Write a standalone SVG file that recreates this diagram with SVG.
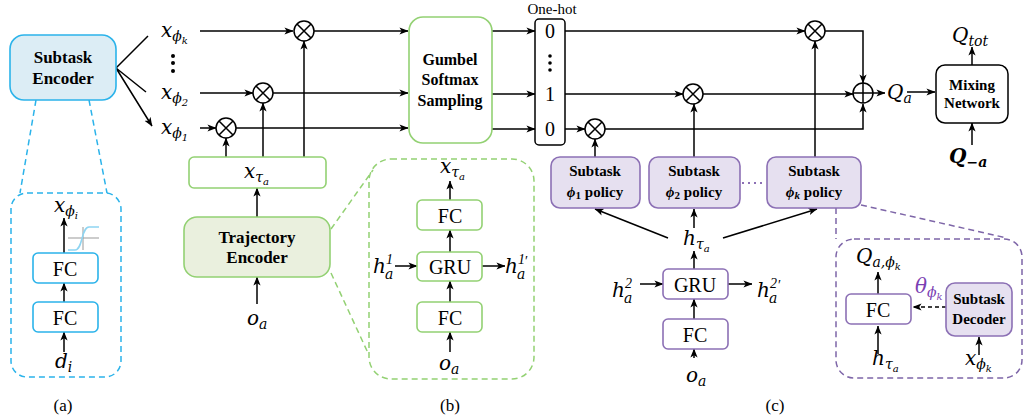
<svg xmlns="http://www.w3.org/2000/svg" width="1025" height="419" viewBox="0 0 1025 419">
<style>
text{font-family:"Liberation Serif","Times New Roman",serif;fill:#000}
.b{font-weight:bold;text-anchor:middle}
.t{font-size:20px;text-anchor:middle}
.m{font-family:"DejaVu Serif",serif;font-size:20px;font-style:italic}
.s{font-size:14px}
.ss{font-size:10px}
.ln{fill:none;stroke:#000;stroke-width:1.5}
.ar{fill:none;stroke:#000;stroke-width:1.5;marker-end:url(#ah)}
.op{fill:#fff;stroke:#000;stroke-width:1.5}
.blue{fill:#fff;stroke:#2bb3ea;stroke-width:1.6}
.blueF{fill:#dcedf5;stroke:#2bb3ea;stroke-width:1.6}
.green{fill:#fff;stroke:#93d173;stroke-width:1.6}
.greenF{fill:#eaf0de;stroke:#93d173;stroke-width:1.6}
.purp{fill:#fff;stroke:#8c70b5;stroke-width:1.6}
.purpF{fill:#e6e0f0;stroke:#8c70b5;stroke-width:1.6}
.dBlue{fill:none;stroke:#2bb3ea;stroke-width:1.5;stroke-dasharray:6 4}
.dGreen{fill:none;stroke:#93d173;stroke-width:1.5;stroke-dasharray:6 4}
.dPurp{fill:none;stroke:#7e66a8;stroke-width:1.5;stroke-dasharray:6 4}
</style>
<defs>
<marker id="ah" viewBox="0 0 10 10" refX="9.5" refY="5" markerWidth="9" markerHeight="9" markerUnits="userSpaceOnUse" orient="auto">
<path d="M0,1 L10,5 L0,9 L2.5,5 z" fill="#000"/>
</marker>
<g id="otimes"><circle r="10" class="op"/><path d="M-7,-7 L7,7 M-7,7 L7,-7" class="ln"/></g>
<g id="oplus"><circle r="10" class="op"/><path d="M-10,0 H10 M0,-10 V10" class="ln"/></g>
</defs>

<!-- dashed zoom outlines -->
<g id="zooms">
<path d="M36,100 L20,193 M89,100 L107,193" class="dBlue"/>
<rect x="11" y="193" width="110" height="184" rx="16" class="dBlue"/>
<path d="M331,229 L373,170 M331,273 L368,353" class="dGreen"/>
<rect x="369" y="159" width="165" height="220" rx="22" class="dGreen"/>
<path d="M836,208 V239 M861,205 L1007,238" class="dPurp"/>
<rect x="836" y="239" width="186" height="139" rx="18" class="dPurp"/>
<path d="M742,183 H766" fill="none" stroke="#8c70b5" stroke-width="2.2" stroke-dasharray="2 4"/>
</g>

<!-- connectors -->
<g id="connectors">
<path d="M116,68 L148,36 M116,68 L146,92 M116,68 L152,126" class="ar"/>
<path d="M200,31 H293" class="ar"/>
<path d="M314,31 H408" class="ar"/>
<path d="M200,93 H253" class="ar"/>
<path d="M273,93 H408" class="ar"/>
<path d="M200,128 H216" class="ar"/>
<path d="M236,128 H408" class="ar"/>
<path d="M226,157 V138" class="ar"/>
<path d="M263,157 V103" class="ar"/>
<path d="M304,157 V41" class="ar"/>
<path d="M257,217 V188" class="ar"/>
<path d="M257,304 V277" class="ar"/>
<path d="M64,253 V218" class="ar"/>
<path d="M64,302 V283" class="ar"/>
<path d="M64,352 V332" class="ar"/>
<path d="M450,200 V181" class="ar"/>
<path d="M450,252 V230" class="ar"/>
<path d="M450,302 V281" class="ar"/>
<path d="M450,352 V332" class="ar"/>
<path d="M395,266 H417" class="ar"/>
<path d="M482,266 H505" class="ar"/>
<path d="M492,31 H535" class="ar"/>
<path d="M492,94 H535" class="ar"/>
<path d="M492,129 H535" class="ar"/>
<path d="M565,31 H805" class="ar"/>
<path d="M825,31 H863 V83" class="ar"/>
<path d="M565,94 H683" class="ar"/>
<path d="M703,94 H853" class="ar"/>
<path d="M565,129 H585" class="ar"/>
<path d="M605,129 H863 V104" class="ar"/>
<path d="M873,93 H885" class="ar"/>
<path d="M907,92 H935" class="ar"/>
<path d="M972,65 V47" class="ar"/>
<path d="M972,145 V123" class="ar"/>
<path d="M595,157 V139" class="ar"/>
<path d="M694,157 V104" class="ar"/>
<path d="M815,157 V41" class="ar"/>
<path d="M668,238 L595,209" class="ar"/>
<path d="M694,228 V209" class="ar"/>
<path d="M723,238 L817,209" class="ar"/>
<path d="M694,269 V251" class="ar"/>
<path d="M694,319 V299" class="ar"/>
<path d="M694,358 V349" class="ar"/>
<path d="M640,284 H663" class="ar"/>
<path d="M728,284 H752" class="ar"/>
<path d="M878,294 V272" class="ar"/>
<path d="M878,354 V326" class="ar"/>
<path d="M979,355 V337" class="ar"/>
<path d="M946,307 H913" class="ar" stroke-dasharray="4 3"/>
</g>

<!-- operators -->
<g id="ops">
<use href="#otimes" x="304" y="31"/>
<use href="#otimes" x="263" y="93"/>
<use href="#otimes" x="226" y="128"/>
<use href="#otimes" x="815" y="31"/>
<use href="#otimes" x="693" y="94"/>
<use href="#otimes" x="595" y="129"/>
<use href="#oplus" x="863" y="93"/>
</g>

<!-- (a) -->
<g id="subtask-encoder">
<rect x="10" y="35" width="106" height="65" rx="14" class="blueF"/>
<text x="63" y="63" class="b" font-size="17">Subtask</text>
<text x="63" y="84" class="b" font-size="17">Encoder</text>
</g>
<g id="a-fc1"><rect x="33" y="253" width="65" height="30" rx="5" class="blue"/><text x="65" y="276" class="t">FC</text></g>
<g id="a-fc2"><rect x="33" y="302" width="65" height="30" rx="5" class="blue"/><text x="65" y="325" class="t">FC</text></g>
<g id="sigmoid">
<path d="M68,238 H99 M83,227 V250" stroke="#999" stroke-width="1" fill="none"/>
<path d="M68,250 H75 C83,250 81,227 89,227 H99" stroke="#8fd5f2" stroke-width="1.5" fill="none"/>
</g>
<text x="54" y="212" class="m">x<tspan class="s" dy="4">ϕ</tspan><tspan class="ss" dy="3">i</tspan></text>
<text x="55" y="368" class="m">d<tspan class="s" dy="4">i</tspan></text>
<text x="63" y="411" font-size="17" text-anchor="middle">(a)</text>

<!-- x labels -->
<text x="161" y="37" class="m">x<tspan class="s" dy="4">ϕ</tspan><tspan class="ss" dy="3">k</tspan></text>
<g id="vdots"><circle cx="173" cy="56" r="2"/><circle cx="173" cy="63" r="2"/><circle cx="173" cy="71" r="2"/></g>
<text x="161" y="99" class="m">x<tspan class="s" dy="4">ϕ</tspan><tspan class="ss" dy="3">2</tspan></text>
<text x="161" y="134" class="m">x<tspan class="s" dy="4">ϕ</tspan><tspan class="ss" dy="3">1</tspan></text>

<!-- (b) -->
<g id="x-tau"><rect x="189" y="157" width="137" height="31" rx="5" class="green"/>
<text x="244" y="178" class="m">x<tspan class="s" dy="4">τ</tspan><tspan class="ss" dy="3">a</tspan></text></g>
<g id="trajectory-encoder"><rect x="184" y="217" width="146" height="60" rx="13" class="greenF"/>
<text x="257" y="243" class="b" font-size="17">Trajectory</text>
<text x="257" y="263" class="b" font-size="17">Encoder</text></g>
<text x="247" y="325" class="m">o<tspan class="s" dy="4">a</tspan></text>
<g id="b-fc1"><rect x="417" y="200" width="65" height="30" rx="5" class="green"/><text x="450" y="223" class="t">FC</text></g>
<g id="b-gru"><rect x="417" y="252" width="65" height="29" rx="5" class="green"/><text x="450" y="274" class="t">GRU</text></g>
<g id="b-fc2"><rect x="417" y="302" width="65" height="30" rx="5" class="green"/><text x="450" y="325" class="t">FC</text></g>
<text x="440" y="173" class="m">x<tspan class="s" dy="4">τ</tspan><tspan class="ss" dy="3">a</tspan></text>
<text x="439" y="370" class="m">o<tspan class="s" dy="4">a</tspan></text>
<text x="373" y="273" class="m">h</text><text x="386" y="264" class="s" font-style="italic">1</text><text x="385" y="279" class="s m" style="font-size:14px">a</text>
<text x="505" y="273" class="m">h</text><text x="518" y="264" class="s" font-style="italic">1</text><text x="517" y="279" class="m" style="font-size:14px">a</text><text x="525" y="266" class="s">′</text>
<text x="450" y="411" font-size="17" text-anchor="middle">(b)</text>

<!-- Gumbel -->
<g id="gumbel"><rect x="409" y="17" width="83" height="126" rx="14" class="green"/>
<text x="450" y="65" class="b" font-size="16">Gumbel</text>
<text x="450" y="85" class="b" font-size="16">Softmax</text>
<text x="450" y="106" class="b" font-size="16">Sampling</text></g>
<g id="one-hot"><rect x="535" y="19" width="30" height="126" rx="4" fill="#fff" stroke="#000" stroke-width="1.5"/>
<text x="550" y="38" class="t">0</text>
<circle cx="550" cy="56" r="1.8"/><circle cx="550" cy="63" r="1.8"/><circle cx="550" cy="70" r="1.8"/>
<text x="550" y="101" class="t">1</text>
<text x="550" y="136" class="t">0</text>
<text x="552" y="14" font-size="15" text-anchor="middle">One-hot</text></g>

<!-- (c) -->
<g id="policy1"><rect x="551" y="157" width="89" height="51" rx="9" class="purpF"/>
<text x="595" y="176" class="b" font-size="15">Subtask</text>
<text x="595" y="197" class="b" font-size="15"><tspan font-style="italic">ϕ</tspan><tspan font-size="11" dy="2">1</tspan><tspan dy="-2"> policy</tspan></text></g>
<g id="policy2"><rect x="649" y="157" width="91" height="51" rx="9" class="purpF"/>
<text x="694" y="176" class="b" font-size="15">Subtask</text>
<text x="694" y="197" class="b" font-size="15"><tspan font-style="italic">ϕ</tspan><tspan font-size="11" dy="2">2</tspan><tspan dy="-2"> policy</tspan></text></g>
<g id="policyk"><rect x="767" y="157" width="94" height="51" rx="9" class="purpF"/>
<text x="814" y="176" class="b" font-size="15">Subtask</text>
<text x="814" y="197" class="b" font-size="15"><tspan font-style="italic">ϕ</tspan><tspan font-size="11" font-style="italic" dy="2">k</tspan><tspan dy="-2"> policy</tspan></text></g>
<text x="683" y="245" class="m">h<tspan class="s" dy="4">τ</tspan><tspan class="ss" dy="3">a</tspan></text>
<g id="c-gru"><rect x="663" y="269" width="65" height="30" rx="5" class="purp"/><text x="695" y="292" class="t">GRU</text></g>
<g id="c-fc"><rect x="663" y="319" width="65" height="30" rx="5" class="purp"/><text x="695" y="342" class="t">FC</text></g>
<text x="686" y="382" class="m">o<tspan class="s" dy="4">a</tspan></text>
<text x="612" y="297" class="m">h</text><text x="625" y="288" class="s" font-style="italic">2</text><text x="624" y="303" class="m" style="font-size:14px">a</text>
<text x="757" y="297" class="m">h</text><text x="770" y="288" class="s" font-style="italic">2</text><text x="769" y="303" class="m" style="font-size:14px">a</text><text x="778" y="290" class="s">′</text>
<text x="775" y="411" font-size="17" text-anchor="middle">(c)</text>

<g id="d-fc"><rect x="846" y="294" width="65" height="30" rx="5" class="purp"/><text x="878" y="317" class="t">FC</text></g>
<g id="subtask-decoder"><rect x="946" y="283" width="66" height="53" rx="9" class="purpF"/>
<text x="979" y="304" class="b" font-size="15">Subtask</text>
<text x="979" y="324" class="b" font-size="15">Decoder</text></g>
<text x="856" y="263" class="m">Q<tspan class="s" dy="4">a,ϕ</tspan><tspan class="ss" dy="3">k</tspan></text>
<text x="872" y="365" class="m">h<tspan class="s" dy="4">τ</tspan><tspan class="ss" dy="3">a</tspan></text>
<text x="965" y="365" class="m">x<tspan class="s" dy="4">ϕ</tspan><tspan class="ss" dy="3">k</tspan></text>
<text x="915" y="293" class="m" style="fill:#7b3fb3">θ<tspan class="s" dy="4" style="fill:#7b3fb3">ϕ</tspan><tspan class="ss" dy="3" style="fill:#7b3fb3">k</tspan></text>

<!-- mixing -->
<text x="887" y="99" class="m">Q<tspan class="s" dy="4">a</tspan></text>
<g id="mixing"><rect x="936" y="65" width="72" height="58" rx="9" fill="#fff" stroke="#000" stroke-width="1.5"/>
<text x="972" y="90" class="b" font-size="15">Mixing</text>
<text x="972" y="108" class="b" font-size="15">Network</text></g>
<text x="952" y="42" class="m">Q<tspan class="s" dy="4">tot</tspan></text>
<text x="949" y="163" class="m" font-weight="bold">Q<tspan class="s" dy="4">−a</tspan></text>
</svg>
